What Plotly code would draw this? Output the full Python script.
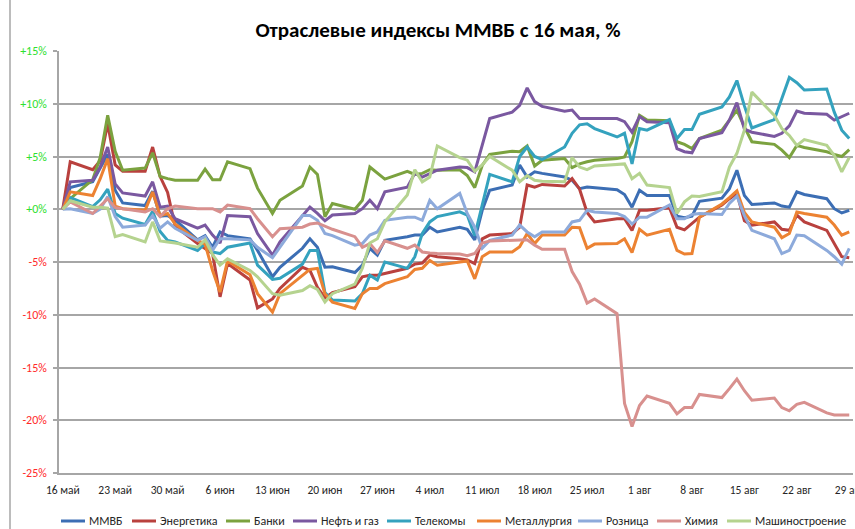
import plotly.graph_objects as go

dates = ["2013-05-16","2013-05-17",
         "2013-05-20","2013-05-21","2013-05-22","2013-05-23","2013-05-24",
         "2013-05-27","2013-05-28","2013-05-29","2013-05-30","2013-05-31",
         "2013-06-03","2013-06-04","2013-06-05","2013-06-06","2013-06-07",
         "2013-06-10","2013-06-11","2013-06-13","2013-06-14",
         "2013-06-17","2013-06-18","2013-06-19","2013-06-20","2013-06-21",
         "2013-06-24","2013-06-25","2013-06-26","2013-06-27","2013-06-28",
         "2013-07-01","2013-07-02","2013-07-03","2013-07-04","2013-07-05",
         "2013-07-08","2013-07-09","2013-07-10","2013-07-11","2013-07-12",
         "2013-07-15","2013-07-16","2013-07-17","2013-07-18","2013-07-19",
         "2013-07-22","2013-07-23","2013-07-24","2013-07-25","2013-07-26",
         "2013-07-29","2013-07-30","2013-07-31","2013-08-01","2013-08-02",
         "2013-08-05","2013-08-06","2013-08-07","2013-08-08","2013-08-09",
         "2013-08-12","2013-08-13","2013-08-14","2013-08-15","2013-08-16",
         "2013-08-19","2013-08-20","2013-08-21","2013-08-22","2013-08-23",
         "2013-08-26","2013-08-27","2013-08-28","2013-08-29"]

mmvb = [0, 2.05, 2.6, 3.9, 5.2, 1.8, 0.6, 0.35, 1.7, -0.65, -0.6, -1.0,
        -2.9, -2.5, -3.6, -2.15, -2.5, -2.8, -3.9, -6.4, -5.5,
        -3.7, -2.8, -3.6, -5.5, -5.45, -6.0, -5.3, -3.7, -4.35, -2.95,
        -2.6, -2.45, -2.45, -1.7, -2.15, -1.7, -1.9, -2.9, -0.1, 1.8,
        2.3, 4.2, 3.05, 3.55, 3.4, 3.05, 2.75, 1.95, 2.1, 2.05,
        1.85, 1.4, 0.2, 1.8, 1.3, 1.3, -0.65, -0.8, -0.65, 0.75,
        1.05, 1.95, 3.7, 1.3, 0.45, 0.6, 0.3, 0.2, 1.65, 1.4,
        1.0, 0.05, -0.35, -0.1]
energ = [0, 4.5, 3.75, 4.6, 8.1, 4.2, 3.6, 3.6, 5.9, 3.1, 1.6, -1.6,
         -3.25, -3.7, -4.2, -8.3, -5.15, -6.7, -9.35, -8.5, -7.5,
         -5.5, -5.8, -7.4, -8.4, -7.9, -7.35, -6.4, -6.25, -6.25, -6.1,
         -5.6, -5.2, -5.1, -4.35, -4.5, -4.7, -4.8, -5.15, -2.8, -2.45,
         -2.3, -1.7, 2.3, 2.1, 2.35, 2.2, 2.9, 1.9, -0.3, -1.2,
         -0.9, -0.9, -2.0, -0.1, -0.1, 0.15, -1.7, -1.95, -1.35, -0.75,
         0.4, 1.0, 1.5, -1.1, -1.5, -1.2, -1.9, -2.0, -0.55, -1.2,
         -2.0, -3.2, -4.5, -4.6]
banki = [0, 1.0, 2.8, 4.9, 8.9, 5.5, 3.7, 3.9, 5.35, 3.1, 2.9, 2.75,
         2.75, 3.8, 2.8, 2.8, 4.5, 3.85, 2.0, -0.4, 0.85,
         2.2, 4.0, 3.3, -0.7, 0.55, 0.0, 0.85, 4.0, 3.4, 2.85,
         3.6, 3.3, 3.4, 3.75, 3.7, 3.75, 3.2, 2.05, 4.15, 5.2,
         5.5, 5.45, 6.0, 4.1, 4.65, 4.8, 3.95, 4.3, 4.5, 4.65,
         4.8, 4.95, 6.4, 8.9, 8.45, 8.4, 6.4, 6.15, 5.75, 6.7,
         7.5, 8.5, 9.4, 7.8, 6.4, 6.15, 5.6, 4.9, 6.05, 5.85,
         5.45, 5.2, 5.0, 5.65]
neft = [0, 2.6, 2.75, 4.0, 5.9, 2.4, 1.55, 1.25, 2.6, 0.2, 0.3, -0.9,
        -1.8, -1.5, -2.45, -3.2, -0.6, -0.7, -2.3, -4.35, -3.1,
        -0.6, 0.2, -0.4, -1.1, -0.55, -0.4, 0.05, 0.85, 0.05, 1.65,
        2.1, 3.4, 3.05, 3.4, 3.7, 4.0, 3.95, 3.55, 6.0, 8.6,
        9.2, 9.85, 11.5, 10.2, 9.75, 9.3, 9.4, 8.6, 8.6, 8.6,
        8.6, 8.3, 7.3, 8.8, 8.3, 8.2, 5.75, 5.45, 5.35, 6.7,
        7.25, 8.45, 10.1, 7.6, 7.3, 6.9, 7.2, 7.9, 9.3, 9.1,
        9.0, 8.45, 8.75, 9.1]
tele = [0, 1.1, 0.25, 0.9, 1.9, -0.4, -0.85, -1.45, -0.2, -2.1, -2.95, -3.1,
        -3.9, -3.25, -4.05, -4.2, -3.6, -3.2, -5.3, -6.65, -6.55,
        -5.2, -3.9, -3.9, -7.9, -8.6, -8.7, -8.0, -6.25, -6.7, -5.0,
        -5.6, -4.5, -2.3, -1.2, -0.7, -0.25, -0.55, -2.5, 0.3, 3.3,
        2.6, 5.0, 5.9, 5.0, 4.7, 5.9, 7.2, 8.0, 8.1, 7.65,
        6.85, 7.2, 4.3, 7.65, 7.5, 8.5, 6.7, 7.55, 7.55, 9.0,
        9.7, 10.65, 12.2, 9.8, 7.7, 8.5, 10.5, 12.5, 12.0, 11.3,
        11.4, 9.2, 7.5, 6.7]
metal = [0, 1.65, 1.3, 2.9, 4.8, 0.3, 0.05, -0.1, 1.65, -0.6, -0.4, -1.4,
         -2.95, -3.3, -5.8, -7.85, -4.9, -6.2, -8.0, -9.75, -8.0,
         -6.3, -5.7, -5.6, -8.0, -8.8, -9.4, -8.0, -7.5, -7.5, -7.05,
         -6.4, -5.7, -5.6, -4.85, -5.3, -5.0, -4.9, -6.6, -4.5, -4.05,
         -4.05, -3.55, -2.3, -3.25, -2.45, -2.45, -1.7, -1.75, -3.7, -3.3,
         -3.25, -2.8, -4.1, -1.9, -2.45, -1.9, -3.9, -4.25, -4.2, -0.75,
         0.5, 1.1, 1.75, -0.3, -1.2, -1.7, -2.7, -2.3, -0.25, -0.4,
         -0.75, -1.5, -2.45, -2.15]
rozn = [0, 0.05, -0.4, 0.0, 1.2, -0.7, -1.7, -1.5, -0.6, -1.8, -1.2, -1.8,
        -2.95, -2.6, -3.9, -2.8, -2.8, -2.9, -3.6, -4.6, -3.6,
        -0.6, -0.6, -1.05, -2.3, -2.5, -3.4, -3.25, -2.45, -2.15, -1.05,
        -0.75, -0.75, -1.05, 0.85, 0.05, 1.5, -0.4, -1.7, -3.7, -2.95,
        -2.45, -1.5, -2.15, -2.6, -2.15, -2.15, -1.2, -1.05, -0.1, -0.25,
        -0.4, -0.7, -1.4, -0.75, -0.75, 0.4, -0.9, -0.9, -0.5, -0.4,
        -0.5, 0.55, 1.25, -0.6, -2.0, -2.8, -4.2, -3.9, -2.45, -2.5,
        -3.9, -4.5, -5.2, -3.7]
khim = [0, 0.7, -0.4, 0.3, 1.0, 0.15, 0.05, -0.25, 0.05, -0.7, 0.05, 0.3,
        0.05, 0.05, 0.05, -0.25, 0.4, 0.05, -0.9, -2.6, -1.85,
        -1.7, -1.4, -1.3, -1.6, -1.9, -2.6, -3.6, -3.25, -4.1, -3.0,
        -3.7, -3.4, -4.05, -4.15, -4.2, -4.25, -4.4, -4.2, -3.2, -3.0,
        -2.9, -2.9, -2.9, -3.4, -3.8, -3.8, -5.9, -7.1, -8.9, -8.5,
        -9.9, -18.4, -20.6, -18.6, -17.7, -18.4, -19.4, -18.8, -18.8, -17.55,
        -17.85, -17.0, -16.1, -17.2, -18.1, -17.9, -18.8, -19.1, -18.5, -18.3,
        -19.3, -19.5, -19.5, -19.5]
mash = [0, 0.8, 0.2, 0.2, 0.1, -2.6, -2.4, -3.1, -1.2, -3.0, -3.1, -3.2,
        -3.6, -2.9, -4.3, -5.3, -4.7, -5.8, -6.4, -8.0, -8.15,
        -7.7, -7.25, -7.6, -8.8, -8.0, -7.1, -5.6, -3.2, -2.8, -1.2,
        1.35, 3.75, 2.6, 3.05, 6.0, 4.9, 4.65, 3.6, 4.2, 5.0,
        3.7, 2.6, 3.2, 2.75, 2.65, 2.6, 4.9, 4.0, 3.75, 4.1,
        4.25, 4.3, 2.9, 3.4, 2.3, 2.05, -0.4, 0.7, 1.25, 1.2,
        1.65, 4.0, 5.3, 7.5, 11.1, 8.9, 7.65, 7.0, 6.05, 6.6,
        6.05, 5.1, 3.55, 4.9]

series_names = ["ММВБ", "Энергетика", "Банки", "Нефть и газ", "Телекомы",
                "Металлургия", "Розница", "Химия", "Машиностроение"]
series_values = [mmvb, energ, banki, neft, tele, metal, rozn, khim, mash]
series_colors = ["#3C6EB4", "#B9413E", "#7BA23F", "#7A58A0", "#34A2BE",
                 "#EC8232", "#8DAADB", "#D8908E", "#B5D38F"]

x_tick_dates = ["2013-05-16","2013-05-23","2013-05-30","2013-06-06","2013-06-13",
                "2013-06-20","2013-06-27","2013-07-04","2013-07-11","2013-07-18",
                "2013-07-25","2013-08-01","2013-08-08","2013-08-15","2013-08-22",
                "2013-08-29"]
x_tick_labels = ["16 май","23 май","30 май","6 июн","13 июн","20 июн","27 июн",
                 "4 июл","11 июл","18 июл","25 июл","1 авг","8 авг","15 авг",
                 "22 авг","29 авг"]
y_tick_values = [-25, -20, -15, -10, -5, 0, 5, 10, 15]
y_tick_labels = ["-25%", "-20%", "-15%", "-10%", "-5%", "+0%", "+5%", "+10%", "+15%"]

FONT = "Carlito, Calibri, Lato, sans-serif"
POS_COL = "#2EE02E"
NEG_COL = "#FF2A2A"
TXT = "#262626"

y_ticktext = []
for v, t in zip(y_tick_values, y_tick_labels):
    col = POS_COL if v >= 0 else NEG_COL
    y_ticktext.append('<span style="color:%s">%s</span>' % (col, t))

fig = go.Figure()
for name, vals, col in zip(series_names, series_values, series_colors):
    fig.add_trace(go.Scatter(x=dates, y=vals, name=name, mode="lines",
                             line=dict(color=col, width=3), showlegend=False))

W, H = 855, 529
L, R, T, B = 59, 2, 51, 56
pw = W - L - R
ph = H - T - B

def px_x(p):
    return (p - L) / pw

def px_y(p):
    return (H - B - p) / ph

fig.update_layout(
    width=W, height=H,
    margin=dict(l=L, r=R, t=T, b=B, autoexpand=False),
    paper_bgcolor="white", plot_bgcolor="white",
    font=dict(family=FONT, size=12, color=TXT),
    title=dict(text="<b>Отраслевые индексы ММВБ с 16 мая, %</b>",
               x=438 / W, xref="container", xanchor="center",
               y=1 - 30 / H, yref="container", yanchor="middle",
               font=dict(family=FONT, size=21, color="#000000")),
    showlegend=False,
    xaxis=dict(type="date", range=["2013-05-15 12:00", "2013-08-29 12:00"],
               tickmode="array", tickvals=x_tick_dates, ticktext=x_tick_labels,
               showgrid=False, zeroline=False, showline=True, automargin=False,
               linecolor="#A6A6A6", linewidth=1.5, ticks="",
               ticklabelstandoff=5, ticklabeloverflow="allow",
               tickfont=dict(family=FONT, size=11.5, color=TXT)),
    yaxis=dict(range=[-25, 15], tickmode="array", tickvals=y_tick_values,
               ticktext=y_ticktext, showgrid=True, gridcolor="#A6A6A6",
               gridwidth=1.5, zeroline=False, showline=True, automargin=False,
               linecolor="#A6A6A6", linewidth=1.5, ticks="outside",
               ticklen=4, tickcolor="#A6A6A6", tickwidth=1.5,
               ticklabelstandoff=4,
               tickfont=dict(family=FONT, size=12)),
)

# outer chart border on the left side
fig.add_shape(type="line", xref="paper", yref="paper",
              x0=px_x(10), x1=px_x(10), y0=px_y(H), y1=px_y(0),
              line=dict(color="#A6A6A6", width=1.5))

# legend drawn below the plot as line samples with text labels
legend_line_left = [61, 132, 226, 293, 387, 477, 578, 657, 727]
LEG_Y = 521
for name, col, x0 in zip(series_names, series_colors, legend_line_left):
    fig.add_shape(type="line", xref="paper", yref="paper",
                  x0=px_x(x0), x1=px_x(x0 + 24), y0=px_y(LEG_Y), y1=px_y(LEG_Y),
                  line=dict(color=col, width=3))
    fig.add_annotation(text=name, xref="paper", yref="paper",
                       x=px_x(x0 + 26), y=px_y(LEG_Y), xanchor="left",
                       yanchor="middle", showarrow=False,
                       font=dict(family=FONT, size=12, color=TXT))

fig.write_html("out.html",
               config={"displayModeBar": False},
               post_script="document.body.style.margin='0px';"
                           "document.body.style.overflow='hidden';")
